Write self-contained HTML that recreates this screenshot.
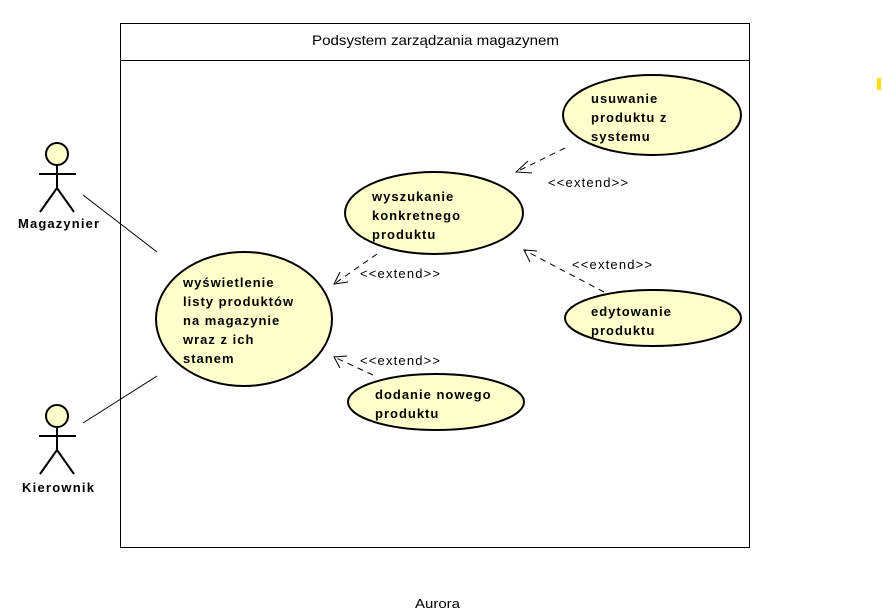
<!DOCTYPE html>
<html><head><meta charset="utf-8"><style>body{margin:0;background:#fff}svg{display:block}</style></head><body>
<svg width="883" height="613" viewBox="0 0 883 613" xmlns="http://www.w3.org/2000/svg" font-family="Liberation Sans, DejaVu Sans, sans-serif">
<rect x="120.5" y="23.5" width="629" height="524" fill="#fff" stroke="#000"/>
<line x1="120" y1="60.5" x2="749" y2="60.5" stroke="#000"/>
<text x="312" y="45" font-size="14" textLength="247" lengthAdjust="spacingAndGlyphs">Podsystem zarządzania magazynem</text>
<g stroke="#000" stroke-width="2" fill="none">
<circle cx="57" cy="154" r="11" fill="#ffffcc"/>
<line x1="57" y1="165" x2="57" y2="188"/><line x1="39" y1="174" x2="76" y2="174"/>
<polyline points="40,212 57,188 74,212"/>
<circle cx="57" cy="416" r="11" fill="#ffffcc"/>
<line x1="57" y1="427" x2="57" y2="450"/><line x1="39" y1="436" x2="76" y2="436"/>
<polyline points="40,474 57,450 74,474"/>
</g>
<g font-size="13" font-weight="bold" lengthAdjust="spacingAndGlyphs">
<text x="18" y="228" textLength="81">Magazynier</text>
<text x="22" y="492" textLength="72">Kierownik</text>
</g>
<g stroke="#000" stroke-width="1">
<line x1="83" y1="195" x2="157" y2="252"/><line x1="83" y1="423" x2="157" y2="376"/>
</g>
<g fill="#ffffcc" stroke="#000" stroke-width="2">
<ellipse cx="244" cy="319" rx="88" ry="67"/>
<ellipse cx="434" cy="213" rx="89" ry="41"/>
<ellipse cx="652" cy="115" rx="89" ry="40"/>
<ellipse cx="653" cy="318" rx="88" ry="28"/>
<ellipse cx="436" cy="402" rx="88" ry="28"/>
</g>
<g font-size="13" font-weight="bold" letter-spacing="1">
<text x="183" y="287">wyświetlenie</text><text x="183" y="306">listy produktów</text><text x="183" y="325">na magazynie</text><text x="183" y="344">wraz z ich</text><text x="183" y="363">stanem</text>
<text x="372" y="201">wyszukanie</text><text x="372" y="220">konkretnego</text><text x="372" y="239">produktu</text>
<text x="591" y="103">usuwanie</text><text x="591" y="122">produktu z</text><text x="591" y="141">systemu</text>
<text x="591" y="316">edytowanie</text><text x="591" y="335">produktu</text>
<text x="375" y="399">dodanie nowego</text><text x="375" y="418">produktu</text>
</g>
<g stroke="#000" stroke-width="1" fill="none">
<line x1="565" y1="148" x2="516" y2="172" stroke-dasharray="6,5"/>
<polyline points="528,161 516,172 532,173"/>
<line x1="377" y1="254" x2="334" y2="284" stroke-dasharray="6,5"/>
<polyline points="340,272 334,284 348,282"/>
<line x1="604" y1="292" x2="524" y2="250" stroke-dasharray="6,5"/>
<polyline points="530,262 524,250 537,251"/>
<line x1="373" y1="375" x2="334" y2="357" stroke-dasharray="6,5"/>
<polyline points="340,368 334,357 347,356"/>
</g>
<g font-size="13" lengthAdjust="spacingAndGlyphs">
<text x="548" y="187" textLength="80">&lt;&lt;extend&gt;&gt;</text>
<text x="360" y="278" textLength="80">&lt;&lt;extend&gt;&gt;</text>
<text x="572" y="269" textLength="80">&lt;&lt;extend&gt;&gt;</text>
<text x="360" y="365" textLength="80">&lt;&lt;extend&gt;&gt;</text>
</g>
<rect x="877" y="78" width="4" height="12" fill="#ffe000"/>
<text x="415" y="608" font-size="13" textLength="45" lengthAdjust="spacingAndGlyphs">Aurora</text>
</svg>
</body></html>
